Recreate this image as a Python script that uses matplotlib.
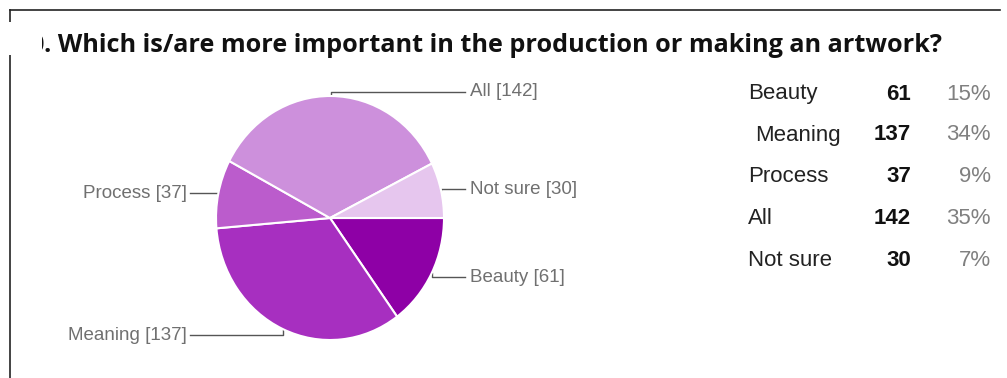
import numpy as np
import matplotlib.pyplot as plt
from matplotlib.patches import Rectangle

# Survey answers (order as drawn, clockwise from 3 o'clock)
answers = ["Beauty", "Meaning", "Process", "All", "Not sure"]
counts = [61, 137, 37, 142, 30]
percents = ["15%", "34%", "9%", "35%", "7%"]
colors = ["#8e00a6", "#a72fc0", "#bb5ccc", "#cd90dc", "#e6c6ee"]

title_num = "0"
title = ". Which is/are more important in the production or making an artwork?"

W, H = 1007, 378
fig = plt.figure(figsize=(W / 100, H / 100), dpi=100)

# overlay axes in pixel units (y down) for labels, lines, table
ov = fig.add_axes([0, 0, 1, 1])
ov.set_xlim(0, W)
ov.set_ylim(H, 0)
ov.axis("off")

# pie placement (pixels)
cx, cy, rx, ry = 330, 218, 114, 122
pax = fig.add_axes([(cx - rx) / W, (H - cy - ry) / H, 2 * rx / W, 2 * ry / H])
pax.pie(counts, colors=colors, startangle=0, counterclock=False,
        wedgeprops=dict(edgecolor="white", linewidth=1.5))
pax.set_aspect("auto")
pax.set_xlim(-1, 1)
pax.set_ylim(-1, 1)

# leader lines from wedge mid-angles
total = sum(counts)
cum = np.cumsum([0] + counts)
mid = -(cum[:-1] + np.array(counts) / 2) / total * 2 * np.pi
label_y = {"Beauty": 277, "Meaning": 335, "Process": 193, "All": 92, "Not sure": 189}
lc = "#555555"
for name, n, a in zip(answers, counts, mid):
    ax_ = cx + rx * np.cos(a)
    ay_ = cy - ry * np.sin(a)
    ly = label_y[name]
    txt = f"{name} [{n}]"
    if np.cos(a) >= -0.01 and name != "Meaning":
        ov.plot([ax_, ax_, 465], [ay_, ly, ly], color=lc, lw=1)
        ov.text(470, ly, txt, ha="left", va="center", fontsize=13.5,
                color="#707070", family="Liberation Sans")
    else:
        ov.plot([ax_, ax_, 190], [ay_, ly, ly], color=lc, lw=1)
        ov.text(187, ly, txt, ha="right", va="center", fontsize=13.5,
                color="#707070", family="Liberation Sans")

# summary table
row_y = [94, 135, 177, 218, 260]
for i, (name, n, p) in enumerate(zip(answers, counts, percents)):
    x0 = 755 if name == "Meaning" else 748
    ov.text(x0, row_y[i], name, ha="left", va="center", fontsize=16,
            color="#222222", family="Liberation Sans")
    ov.text(911, row_y[i], str(n), ha="right", va="center", fontsize=16,
            color="#111111", fontweight="bold", family="Liberation Sans")
    ov.text(991, row_y[i], p, ha="right", va="center", fontsize=16,
            color="#808080", family="Liberation Sans")

# title, fitted to its width in the screenshot
t = ov.text(44, 46, title, ha="left", va="center", fontsize=17,
            fontweight="bold", color="#111111", family="Open Sans")
fig.canvas.draw()
r = fig.canvas.get_renderer()
w = t.get_window_extent(r).width
fs = 17 * 900 / w
t.set_fontsize(fs)
ov.text(44, 46, title_num, ha="right", va="center", fontsize=fs,
        fontweight="bold", color="#111111", family="Open Sans")

# frame lines and white patch over the cut-off question number
ov.plot([10, 1000], [10, 10], color="#222222", lw=1.2)
ov.plot([10, 10], [10, H], color="#222222", lw=1.2)
ov.add_patch(Rectangle((0, 22), 42, 33, facecolor="white", edgecolor="none", zorder=5))

fig.savefig("out.png", dpi=100)
